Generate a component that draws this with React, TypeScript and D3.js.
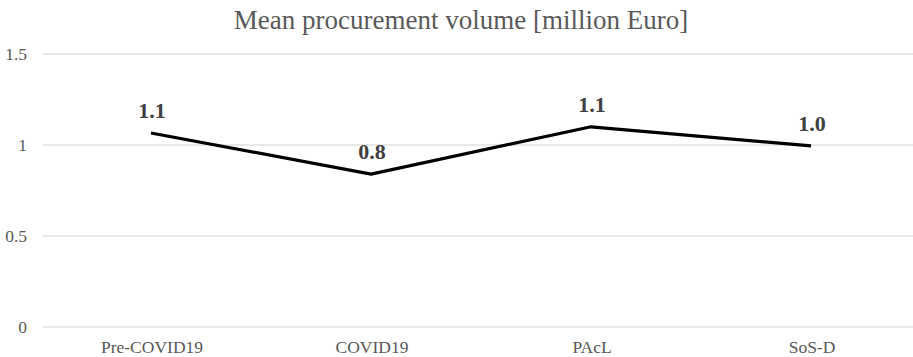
import React from "react";
import * as d3 from "d3";

const categories = ["Pre-COVID19", "COVID19", "PAcL", "SoS-D"];
const values = [1.066, 0.84, 1.1, 0.995];
const labels = ["1.1", "0.8", "1.1", "1.0"];
const yTicks = [0, 0.5, 1, 1.5];
const title = "Mean procurement volume [million Euro]";

export default function App() {
  const W = 913, H = 357;
  const left = 41, right = 921, top = 54, bottom = 327;
  const x = d3.scaleBand().domain(categories).range([left, right]);
  const y = d3.scaleLinear().domain([0, 1.5]).range([bottom, top]);
  const line = d3.line<number>()
    .x((_, i) => (x(categories[i]) as number) + x.bandwidth() / 2)
    .y((d) => y(d));
  const font = "'Liberation Serif', 'Times New Roman', serif";
  return (
    <svg width={W} height={H} style={{ position: "absolute", left: 0, top: 0, background: "#fff" }} fontFamily={font}>
      <text x={461} y={29} textAnchor="middle" fontSize={27} fill="#595959">{title}</text>
      {yTicks.map((t) => (
        <g key={t}>
          <line x1={43} x2={W} y1={y(t)} y2={y(t)} stroke="#e0e0e0" strokeWidth={1.3} />
          <text x={27} y={y(t)} dy="0.35em" textAnchor="end" fontSize={17.5} fill="#595959">{t}</text>
        </g>
      ))}
      {categories.map((c) => (
        <text key={c} x={(x(c) as number) + x.bandwidth() / 2 + 1} y={353} textAnchor="middle" fontSize={17.5} fill="#595959">{c}</text>
      ))}
      <path d={line(values) || ""} fill="none" stroke="#000" strokeWidth={3.2} strokeLinejoin="round" />
      {values.map((v, i) => (
        <text key={i} x={(x(categories[i]) as number) + x.bandwidth() / 2 + 1} y={y(v) - 15} textAnchor="middle" fontSize={22} fontWeight="bold" fill="#404040">{labels[i]}</text>
      ))}
    </svg>
  );
}
